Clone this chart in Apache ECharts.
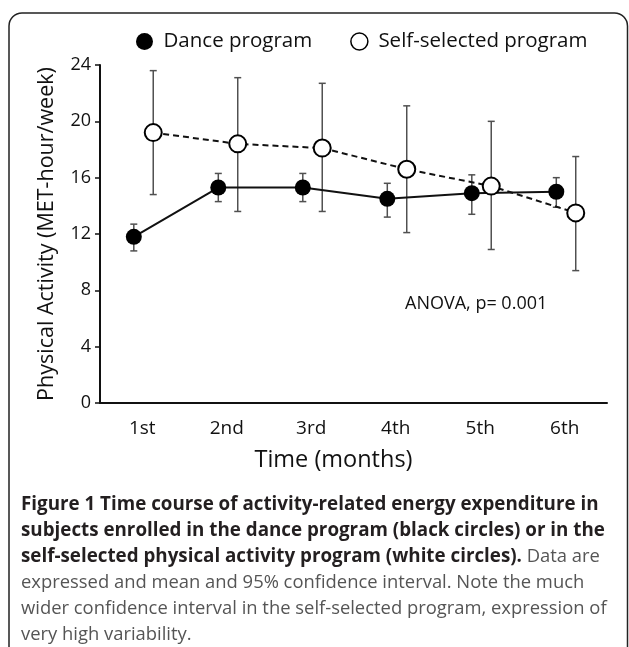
<!DOCTYPE html>
<html>
<head>
<meta charset="utf-8">
<style>
  html, body { margin: 0; padding: 0; background: #fff; }
  #chart { width: 629px; height: 647px; }
</style>
<script src="https://cdn.jsdelivr.net/npm/echarts@6/dist/echarts.min.js"></script>
</head>
<body>
<div id="chart"></div>
<script>
// categories and values (MET-hour/week)
var months = ["1st", "2nd", "3rd", "4th", "5th", "6th"];
var yTicks = [0, 4, 8, 12, 16, 20, 24];

var danceMean = [11.8, 15.3, 15.3, 14.5, 14.9, 15.0];
var danceLow = [10.8, 14.3, 14.3, 13.2, 13.4, 13.9];
var danceHigh = [12.7, 16.3, 16.3, 15.6, 16.2, 16.0];

var selfMean = [19.2, 18.4, 18.1, 16.6, 15.4, 13.5];
var selfLow = [14.8, 13.6, 13.6, 12.1, 10.9, 9.4];
var selfHigh = [23.6, 23.1, 22.7, 21.1, 20.0, 17.5];

// the two groups are dodged a little around each month
var danceShift = -0.1;
var selfShift = 0.13;

var chartFont = "Open Sans";
var captionLines = [
  "{b|Figure 1 Time course of activity-related energy expenditure in}",
  "{b|subjects enrolled in the dance program (black circles) or in the}",
  "{b|self-selected physical activity program (white circles).}{n| Data are}",
  "{n|expressed and mean and 95% confidence interval. Note the much}",
  "{n|wider confidence interval in the self-selected program, expression of}",
  "{n|very high variability.}"
];

function pointData(mean, shift) {
  return mean.map(function (v, i) {
    return [i + 1 + shift, v];
  });
}
function barData(low, high, shift) {
  return low.map(function (v, i) {
    return [i + 1 + shift, v, high[i]];
  });
}

function renderErrorBar(params, api) {
  var x = api.value(0);
  var top = api.coord([x, api.value(2)]);
  var bottom = api.coord([x, api.value(1)]);
  var cap = 3.5;
  var style = { stroke: "#505050", lineWidth: 1.5 };
  return {
    type: "group",
    children: [
      { type: "line", shape: { x1: top[0], y1: top[1], x2: bottom[0], y2: bottom[1] }, style: style },
      { type: "line", shape: { x1: top[0] - cap, y1: top[1], x2: top[0] + cap, y2: top[1] }, style: style },
      { type: "line", shape: { x1: bottom[0] - cap, y1: bottom[1], x2: bottom[0] + cap, y2: bottom[1] }, style: style }
    ]
  };
}

var myChart = echarts.init(document.getElementById("chart"));

var option = {
  backgroundColor: "#fff",
  animation: false,
  textStyle: { fontFamily: chartFont },
  legend: {
    data: [
      { name: "Dance program", icon: "circle" },
      { name: "Self-selected program", icon: "circle", itemStyle: { borderWidth: 1.5 } }
    ],
    left: 136,
    top: 31,
    padding: 0,
    itemWidth: 18,
    itemHeight: 17,
    itemGap: 38,
    textStyle: { fontSize: 20.5, color: "#111", padding: [0, 0, 0, 5] }
  },
  grid: {
    left: 100,
    top: 65,
    width: 507,
    height: 338
  },
  xAxis: [
    {
      type: "category",
      data: months,
      boundaryGap: true,
      name: "Time (months)",
      nameLocation: "middle",
      nameGap: 45,
      nameTextStyle: { fontSize: 23.5, color: "#111", padding: [0, 40, 0, 0] },
      axisLine: { lineStyle: { color: "#111", width: 2 } },
      axisTick: { alignWithLabel: true, length: 4, lineStyle: { color: "#111", width: 1.5 } },
      axisLabel: { fontSize: 19, color: "#111", margin: 16 }
    },
    {
      type: "value",
      min: 0.5,
      max: 6.5,
      show: false
    }
  ],
  yAxis: {
    type: "value",
    min: yTicks[0],
    max: yTicks[yTicks.length - 1],
    interval: 4,
    name: "Physical Activity (MET-hour/week)",
    nameLocation: "middle",
    nameGap: 42,
    nameTextStyle: { fontSize: 21.5, color: "#111" },
    axisLine: { show: true, lineStyle: { color: "#111", width: 2 } },
    axisTick: { show: true, length: 5, lineStyle: { color: "#111", width: 1.5 } },
    axisLabel: { fontSize: 18, color: "#111", margin: 9 },
    splitLine: { show: false }
  },
  graphic: [
    {
      type: "rect",
      shape: { x: 9, y: 13, width: 618.5, height: 700, r: 13 },
      style: { fill: "none", stroke: "#222", lineWidth: 1.5 },
      silent: true
    },
    {
      type: "text",
      left: 405,
      top: 295,
      style: { text: "ANOVA, p= 0.001", fontSize: 18, fontFamily: chartFont, fill: "#111" }
    },
    {
      type: "text",
      left: 21,
      top: 492,
      style: {
        text: captionLines.join("\n"),
        fontFamily: chartFont,
        fontSize: 18.5,
        lineHeight: 26,
        rich: {
          b: { fontWeight: "bold", fontSize: 18.8, lineHeight: 26, fill: "#231f20", fontFamily: chartFont },
          n: { fontSize: 18.4, lineHeight: 26, fill: "#555", fontFamily: chartFont }
        }
      }
    }
  ],
  series: [
    {
      name: "dance-ci",
      type: "custom",
      xAxisIndex: 1,
      renderItem: renderErrorBar,
      data: barData(danceLow, danceHigh, danceShift),
      z: 1
    },
    {
      name: "self-ci",
      type: "custom",
      xAxisIndex: 1,
      renderItem: renderErrorBar,
      data: barData(selfLow, selfHigh, selfShift),
      z: 1
    },
    {
      name: "Dance program",
      type: "line",
      xAxisIndex: 1,
      data: pointData(danceMean, danceShift),
      symbol: "circle",
      symbolSize: 16,
      itemStyle: { color: "#000" },
      lineStyle: { color: "#111", width: 2 },
      z: 3
    },
    {
      name: "Self-selected program",
      type: "line",
      xAxisIndex: 1,
      data: pointData(selfMean, selfShift),
      symbol: "circle",
      symbolSize: 17,
      itemStyle: { color: "#fff", borderColor: "#000", borderWidth: 2 },
      lineStyle: { color: "#111", width: 2, type: [6, 4] },
      z: 4
    }
  ]
};

myChart.setOption(option);
</script>
</body>
</html>
